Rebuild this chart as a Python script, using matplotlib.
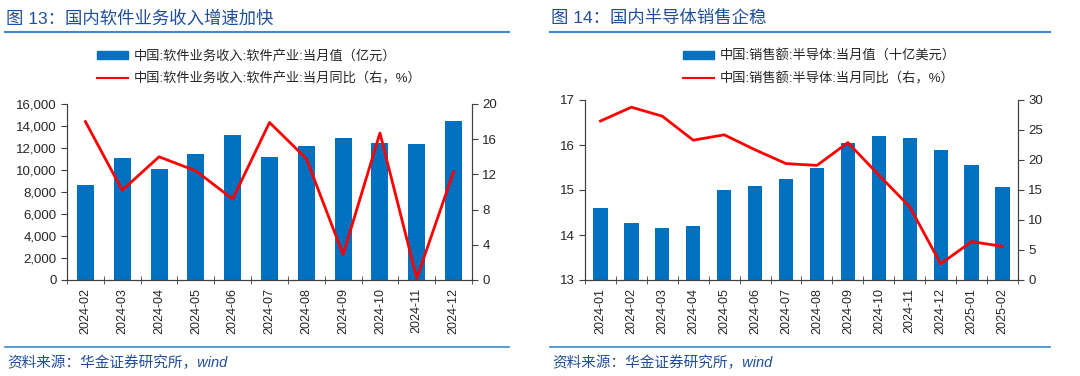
import numpy as np
import matplotlib
matplotlib.use('Agg')
import matplotlib.pyplot as plt
from matplotlib.lines import Line2D
from matplotlib.patches import Patch

plt.rcParams['font.family'] = ['Liberation Sans', 'Noto Sans CJK SC', 'DejaVu Sans']
plt.rcParams['axes.unicode_minus'] = False

# ---- data: chart 13 (software revenue) ----
sw_months = ['2024-02', '2024-03', '2024-04', '2024-05', '2024-06', '2024-07',
             '2024-08', '2024-09', '2024-10', '2024-11', '2024-12']
sw_value = [8600, 11050, 10080, 11450, 13180, 11200, 12140, 12900, 12450, 12390, 14480]
sw_yoy = [18.0, 10.2, 14.0, 12.4, 9.2, 17.9, 13.8, 2.9, 16.7, 0.2, 12.3]

# ---- data: chart 14 (semiconductor sales) ----
semi_months = ['2024-01', '2024-02', '2024-03', '2024-04', '2024-05', '2024-06',
               '2024-07', '2024-08', '2024-09', '2024-10', '2024-11', '2024-12',
               '2025-01', '2025-02']
semi_value = [14.61, 14.27, 14.16, 14.21, 14.99, 15.10, 15.24, 15.49, 16.05,
              16.21, 16.16, 15.88, 15.55, 15.07]
semi_yoy = [26.5, 28.8, 27.3, 23.3, 24.2, 21.7, 19.4, 19.1, 22.9, 17.5, 12.2,
            2.7, 6.4, 5.6]

BAR_COLOR = '#0070C0'
LINE_COLOR = '#FF0000'
TITLE_COLOR = '#1F4E9A'
RULE_COLOR = '#3A8AD0'
TEXT_COLOR = '#262626'

W, H = 1080, 376
fig = plt.figure(figsize=(W / 100, H / 100), dpi=100)


def fx(px):
    return px / W


def fy(py):
    return 1 - py / H


def panel(rect, months, values, yoy, ylim, yticks, y2lim, y2ticks, yfmt,
          bar_label, line_label, legend_xy):
    ax = fig.add_axes(rect)
    x = np.arange(len(months))
    ax.bar(x, np.array(values) - ylim[0], bottom=ylim[0], width=0.46,
           color=BAR_COLOR, zorder=2)
    ax.set_xlim(-0.5, len(months) - 0.5)
    ax.set_ylim(*ylim)
    ax.set_yticks(yticks)
    ax.set_yticklabels([yfmt(v) for v in yticks])
    ax.set_xticks(x)
    ax.set_xticklabels(months, rotation=90)
    ax.set_xticks(np.arange(-0.5, len(months)), minor=True)
    ax.tick_params(axis='x', which='major', length=0, labelsize=9,
                   colors=TEXT_COLOR, pad=6)
    ax.tick_params(axis='x', which='minor', length=6, direction='inout',
                   color='#404040')
    ax.tick_params(axis='y', labelsize=9.5, colors=TEXT_COLOR, length=4,
                   color='#404040')
    ax.spines['top'].set_visible(False)
    for s in ['left', 'bottom', 'right']:
        ax.spines[s].set_color('#404040')
        ax.spines[s].set_linewidth(0.8)

    ax2 = ax.twinx()
    ax2.plot(x, yoy, color=LINE_COLOR, lw=2, zorder=3)
    ax2.set_ylim(*y2lim)
    ax2.set_yticks(y2ticks)
    ax2.tick_params(axis='y', labelsize=9.5, colors=TEXT_COLOR, length=4,
                    color='#404040')
    ax2.spines['top'].set_visible(False)
    for s in ['left', 'bottom', 'right']:
        ax2.spines[s].set_color('#404040')
        ax2.spines[s].set_linewidth(0.8)

    handles = [Patch(color=BAR_COLOR),
               Line2D([0], [0], color=LINE_COLOR, lw=1.5)]
    fig.legend(handles, [bar_label, line_label], loc='upper left',
               bbox_to_anchor=(fx(legend_xy[0]), fy(legend_xy[1])),
               frameon=False, fontsize=9.5, handlelength=2.4, handleheight=0.6,
               handletextpad=0.4, labelspacing=0.75, borderpad=0,
               labelcolor=TEXT_COLOR)
    return ax, ax2


# chart 13
panel([fx(67), fy(280), fx(472 - 67), (280 - 104) / H],
      sw_months, sw_value, sw_yoy,
      (0, 16000), np.arange(0, 16001, 2000), (0, 20), np.arange(0, 21, 4),
      lambda v: f'{int(v):,}',
      '中国:软件业务收入:软件产业:当月值（亿元）',
      '中国:软件业务收入:软件产业:当月同比（右，%）',
      (90, 43))

# chart 14
panel([fx(585), fy(280), fx(1018 - 585), (280 - 100) / H],
      semi_months, semi_value, semi_yoy,
      (13, 17), np.arange(13, 18, 1), (0, 30), np.arange(0, 31, 5),
      lambda v: f'{int(v)}',
      '中国:销售额:半导体:当月值（十亿美元）',
      '中国:销售额:半导体:当月同比（右，%）',
      (676, 43))

# titles, rules, sources
for x0, x1, title in [(5, 509, '图 13：国内软件业务收入增速加快'),
                      (550, 1050, '图 14：国内半导体销售企稳')]:
    fig.text(fx(x0 + 1), fy(18), title, fontsize=12.5, color=TITLE_COLOR,
             va='center', ha='left')
    fig.add_artist(Line2D([fx(x0), fx(x1)], [fy(32), fy(32)],
                          color=RULE_COLOR, lw=1.5))
    fig.add_artist(Line2D([fx(x0), fx(x1)], [fy(347), fy(347)],
                          color=RULE_COLOR, lw=1.2))
    fig.text(fx(x0 + 2), fy(363), '资料来源：华金证券研究所，wind', fontsize=10.5,
             color=TITLE_COLOR, style='italic', va='center', ha='left')

fig.savefig('out.png', dpi=100)
